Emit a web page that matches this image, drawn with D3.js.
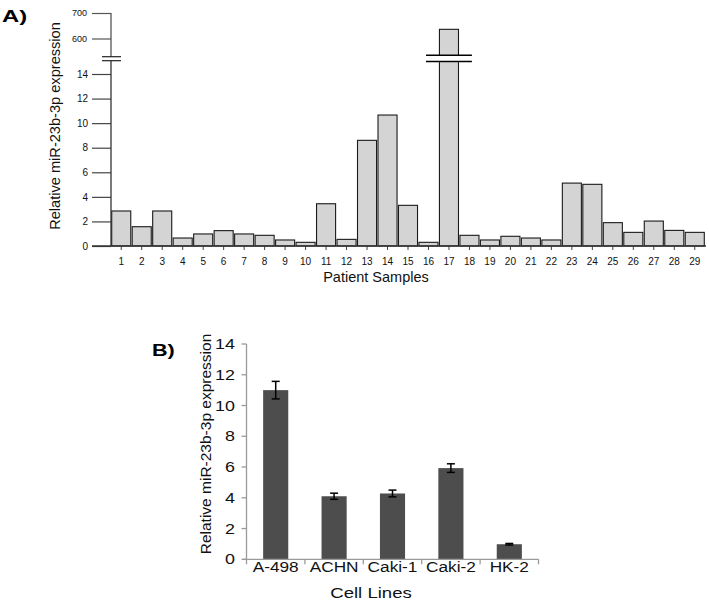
<!DOCTYPE html>
<html><head><meta charset="utf-8">
<script src="https://cdn.jsdelivr.net/npm/d3@7"></script>
<style>body{margin:0;background:#fff}svg{display:block;font-family:"Liberation Sans",Arial,sans-serif}</style>
</head><body><svg id="c" width="709" height="602"></svg>
<script>
// ---------- data ----------
const patientSamples = ["1","2","3","4","5","6","7","8","9","10","11","12","13","14","15","16","17","18","19","20","21","22","23","24","25","26","27","28","29"];
const patientValues = [2.85,1.57,2.85,0.65,0.98,1.25,0.98,0.87,0.49,0.3,3.44,0.54,8.6,10.66,3.31,0.3,636,0.87,0.49,0.79,0.65,0.49,5.12,5.02,1.9,1.11,2.03,1.27,1.11];
const lowTicks = [0,2,4,6,8,10,12,14];
const highTicks = [600,700];
const cellLines = ["A-498","ACHN","Caki-1","Caki-2","HK-2"];
const cellValues = [11.0,4.1,4.28,5.93,0.98];
const cellErrors = [0.57,0.2,0.22,0.28,0.05];
const cellTicks = [0,2,4,6,8,10,12,14];

const svg = d3.select("#c");

// ---------- Chart A ----------
const xA = d3.scaleBand().domain(patientSamples).range([111,705]).paddingInner(0.07).paddingOuter(0.035);
const yLow = d3.scaleLinear().domain([0,14]).range([246,74]);
const yHigh = d3.scaleLinear().domain([600,700]).range([38.5,13]);
const threshold = 100;
const yA = v => v > threshold ? yHigh(v) : yLow(v);
const breakTop = 56.7, breakBot = 60.7;

const gA = svg.append("g");
gA.selectAll("rect.bar").data(patientValues).join("rect")
  .attr("class","bar")
  .attr("x",(d,i)=>xA(patientSamples[i]))
  .attr("width",xA.bandwidth())
  .attr("y",d=>yA(d))
  .attr("height",d=>yLow(0)-yA(d))
  .attr("fill","#d4d4d4").attr("stroke","#1a1a1a").attr("stroke-width",1.1);

// bar break marks on tall bars
patientValues.forEach((v,i)=>{
  if(v>threshold){
    const cx = xA(patientSamples[i]) + xA.bandwidth()/2;
    const half = xA.step()*1.12;
    gA.append("rect").attr("x",cx-half).attr("width",half*2).attr("y",breakTop-1.4).attr("height",breakBot-breakTop+2.8).attr("fill","#fff");
    [breakTop-1.4, breakBot+0.8].forEach(y=>gA.append("line").attr("x1",cx-half).attr("x2",cx+half).attr("y1",y).attr("y2",y).attr("stroke","#000").attr("stroke-width",1.4));
  }
});

// y axis A (lower)
const axLow = gA.append("g").attr("transform","translate(111,0)")
  .call(d3.axisLeft(yLow).tickValues(lowTicks).tickSize(19).tickPadding(4).tickSizeOuter(0));
axLow.select(".domain").remove();
axLow.selectAll(".tick line").attr("stroke","#444").attr("stroke-width",1.2);
axLow.selectAll(".tick text").attr("font-size","10px").attr("fill","#111").attr("font-family","Liberation Sans, Arial, sans-serif");
// upper
const axHigh = gA.append("g").attr("transform","translate(111,0)")
  .call(d3.axisLeft(yHigh).tickValues(highTicks).tickSize(19).tickPadding(5).tickSizeOuter(0));
axHigh.select(".domain").remove();
axHigh.selectAll(".tick line").attr("stroke","#555").attr("stroke-width",1.2);
axHigh.selectAll(".tick text").attr("font-size","9px").attr("fill","#111").attr("font-family","Liberation Sans, Arial, sans-serif");
// axis line with break
gA.append("line").attr("x1",111).attr("x2",111).attr("y1",yHigh(700)).attr("y2",breakTop).attr("stroke","#555").attr("stroke-width",1.3);
gA.append("line").attr("x1",111).attr("x2",111).attr("y1",breakBot).attr("y2",yLow(0)).attr("stroke","#333").attr("stroke-width",1.3);
[breakTop,breakBot].forEach(y=>gA.append("line").attr("x1",102).attr("x2",121).attr("y1",y).attr("y2",y).attr("stroke","#222").attr("stroke-width",1.2));

// x axis A
const axXA = gA.append("g").attr("transform",`translate(0,${yLow(0)})`)
  .call(d3.axisBottom(xA).tickSize(4).tickPadding(8).tickSizeOuter(0));
axXA.select(".domain").remove();
axXA.selectAll(".tick line").attr("stroke","#444");
axXA.selectAll(".tick text").attr("font-size","10px").attr("fill","#111").attr("font-family","Liberation Sans, Arial, sans-serif");
gA.append("line").attr("x1",92).attr("x2",706).attr("y1",yLow(0)).attr("y2",yLow(0)).attr("stroke","#333").attr("stroke-width",1.3);

gA.append("text").attr("transform","translate(60,126) rotate(-90)").attr("text-anchor","middle")
  .attr("font-size","14.6px").attr("fill","#111").text("Relative miR-23b-3p expression");
gA.append("text").attr("x",376).attr("y",282).attr("text-anchor","middle")
  .attr("font-size","14.5px").attr("fill","#111").text("Patient Samples");
gA.append("text").attr("transform","translate(2,22) scale(1.4,1)")
  .attr("font-size","17px").attr("font-weight","bold").attr("fill","#000").text("A)");

// ---------- Chart B ----------
const xB = d3.scaleBand().domain(cellLines).range([246.5,538.5]).paddingInner(0.57).paddingOuter(0.285);
const yB = d3.scaleLinear().domain([0,14]).range([559.3,344]);
const gB = svg.append("g");
const sx = 1.28;

gB.selectAll("rect.cb").data(cellValues).join("rect")
  .attr("class","cb")
  .attr("x",(d,i)=>xB(cellLines[i]))
  .attr("width",xB.bandwidth())
  .attr("y",d=>yB(d))
  .attr("height",d=>yB(0)-yB(d))
  .attr("fill","#4d4d4d");

// error bars
const eb = gB.selectAll("g.eb").data(cellValues).join("g").attr("class","eb");
eb.append("line")
  .attr("x1",(d,i)=>xB(cellLines[i])+xB.bandwidth()/2)
  .attr("x2",(d,i)=>xB(cellLines[i])+xB.bandwidth()/2)
  .attr("y1",(d,i)=>yB(d+cellErrors[i]))
  .attr("y2",(d,i)=>yB(d-cellErrors[i]))
  .attr("stroke","#000").attr("stroke-width",1.5);
["+","-"].forEach(s=>{
  eb.append("line")
    .attr("x1",(d,i)=>xB(cellLines[i])+xB.bandwidth()/2-4)
    .attr("x2",(d,i)=>xB(cellLines[i])+xB.bandwidth()/2+4)
    .attr("y1",(d,i)=>yB(s==="+"?d+cellErrors[i]:d-cellErrors[i]))
    .attr("y2",(d,i)=>yB(s==="+"?d+cellErrors[i]:d-cellErrors[i]))
    .attr("stroke","#000").attr("stroke-width",1.5);
});

// y axis B
gB.append("line").attr("x1",246.5).attr("x2",246.5).attr("y1",yB(14)).attr("y2",yB(0)).attr("stroke","#9a9a9a").attr("stroke-width",1.3);
gB.selectAll("line.yt").data(cellTicks).join("line").attr("class","yt")
  .attr("x1",241.5).attr("x2",246.5).attr("y1",d=>yB(d)).attr("y2",d=>yB(d))
  .attr("stroke","#9a9a9a").attr("stroke-width",1.3);
gB.selectAll("g.ytl").data(cellTicks).join("g").attr("class","ytl")
  .attr("transform",d=>`translate(235,${yB(d)+5}) scale(${sx},1)`)
  .append("text").attr("text-anchor","end").attr("font-size","14px").attr("fill","#111").text(d=>d);

// x axis B
gB.append("line").attr("x1",243).attr("x2",538.5).attr("y1",yB(0)).attr("y2",yB(0)).attr("stroke","#9a9a9a").attr("stroke-width",1.3);
gB.selectAll("line.xt").data(d3.range(cellLines.length+1)).join("line").attr("class","xt")
  .attr("x1",i=>246.5+i*xB.step()).attr("x2",i=>246.5+i*xB.step())
  .attr("y1",yB(0)).attr("y2",yB(0)+5)
  .attr("stroke","#9a9a9a").attr("stroke-width",1.3);
gB.selectAll("g.xtl").data(cellLines).join("g").attr("class","xtl")
  .attr("transform",d=>`translate(${xB(d)+xB.bandwidth()/2},${yB(0)+13}) scale(${sx-0.03},1)`)
  .append("text").attr("text-anchor","middle").attr("font-size","13.8px").attr("fill","#111").text(d=>d);

gB.append("text").attr("transform","translate(211,444) rotate(-90)").attr("text-anchor","middle")
  .attr("font-size","15.5px").attr("fill","#111").text("Relative miR-23b-3p expression");
gB.append("g").attr("transform",`translate(371,598) scale(1.24,1)`)
  .append("text").attr("text-anchor","middle").attr("font-size","15px").attr("fill","#111").text("Cell Lines");
gB.append("g").attr("transform","translate(152,356) scale(1.35,1)")
  .append("text").attr("font-size","16px").attr("font-weight","bold").attr("fill","#000").text("B)");
</script></body></html>
